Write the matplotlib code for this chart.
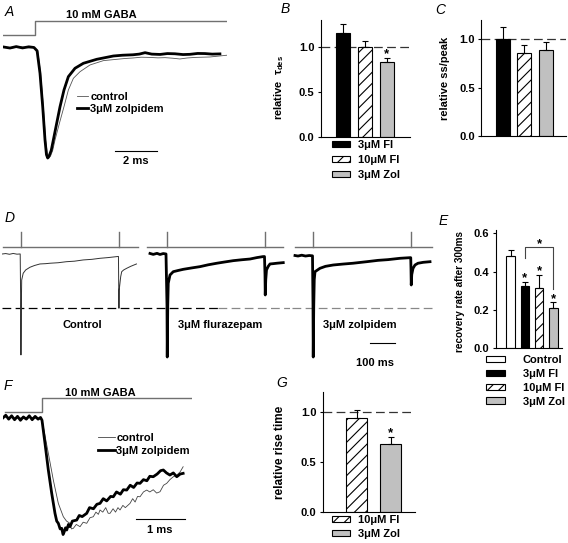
import matplotlib
matplotlib.use('Agg')
import matplotlib.pyplot as plt
import numpy as np

plt.rcParams['font.family'] = ['Liberation Sans', 'DejaVu Sans']
plt.rcParams['font.weight'] = 'bold'
plt.rcParams['axes.labelweight'] = 'bold'
plt.rcParams['font.size'] = 8
plt.rcParams['hatch.linewidth'] = 0.8
plt.rcParams['mathtext.fontset'] = 'custom'
plt.rcParams['mathtext.rm'] = 'Liberation Sans:bold'
plt.rcParams['mathtext.it'] = 'Liberation Sans:bold'
plt.rcParams['mathtext.bf'] = 'Liberation Sans:bold'

# ---------------- data ----------------
# panel A: normalised current vs time (ms), stimulus step
A_stim = [(-1.535, 0.113), (0, 0.113), (0, 0.235), (9.21, 0.235)]
A_ctl = [(-1.53, 0.004), (-1.1, -0.004), (-0.7, 0.006), (-0.3, -0.003), (-0.05, 0.0),
         (0.13, -0.03), (0.27, -0.233), (0.4, -0.536), (0.51, -0.837), (0.59, -0.96),
         (0.67, -1.0), (0.75, -0.98), (0.85, -0.93), (0.96, -0.837), (1.17, -0.686),
         (1.39, -0.536), (1.6, -0.385), (1.84, -0.279), (2.16, -0.219), (2.64, -0.158),
         (3.28, -0.119), (3.92, -0.107), (4.3, -0.1), (4.7, -0.095), (5.1, -0.088),
         (5.52, -0.09), (5.9, -0.094), (6.24, -0.092), (6.6, -0.097), (6.95, -0.104),
         (7.3, -0.095), (7.67, -0.09), (8.0, -0.088), (8.39, -0.086), (8.8, -0.078),
         (9.21, -0.07)]
A_zol = [(-1.53, 0.005), (-1.2, -0.005), (-0.9, 0.008), (-0.6, -0.004), (-0.3, 0.006),
         (-0.05, 0.0), (0.1, -0.03), (0.24, -0.233), (0.37, -0.536), (0.48, -0.837),
         (0.55, -0.97), (0.61, -1.0), (0.68, -0.98), (0.78, -0.93), (0.88, -0.837),
         (1.04, -0.686), (1.2, -0.536), (1.39, -0.385), (1.6, -0.264), (1.92, -0.188),
         (2.32, -0.143), (2.96, -0.107), (3.76, -0.077), (4.2, -0.07), (4.7, -0.066),
         (5.0, -0.06), (5.28, -0.047), (5.6, -0.06), (6.0, -0.063), (6.35, -0.055),
         (6.71, -0.057), (7.1, -0.064), (7.43, -0.062), (7.8, -0.054), (8.15, -0.055),
         (8.5, -0.06), (8.87, -0.058)]

# bar panels
B_names = ['3μM Fl', '10μM Fl', '3μM Zol']
B_vals = [1.16, 1.0, 0.83]
B_err = [0.09, 0.07, 0.05]
B_star = [False, False, True]

C_vals = [1.0, 0.86, 0.89]
C_err = [0.13, 0.08, 0.08]

E_names = ['Control', '3μM Fl', '10μM Fl', '3μM Zol']
E_vals = [0.48, 0.328, 0.314, 0.21]
E_err = [0.035, 0.02, 0.07, 0.03]
E_star = [False, True, True, True]
E_bracket = (0.47, 0.53, 0.31)

G_names = ['10μM Fl', '3μM Zol']
G_vals = [0.94, 0.68]
G_err = [0.08, 0.07]
G_star = [False, True]

# panel D: paired pulses, time (ms) vs normalised current
D_labels = ['Control', '3μM flurazepam', '3μM zolpidem']
D_pulses = [0, 392]
D_stim_span = [(-70, 468), (-81, 465), (-72, 476)]
D_level = -0.524
D_ctl = [(-73, 0.0), (-60, 0.004), (-45, -0.003), (-30, 0.005), (-15, -0.002), (-2, 0.0),
         (0, -0.5), (1, -0.98), (2.5, -0.5), (4, -0.252), (10, -0.187), (20, -0.155),
         (37, -0.129), (55, -0.112), (77, -0.097), (100, -0.094), (117, -0.09),
         (150, -0.085), (183, -0.075), (215, -0.07), (250, -0.058), (285, -0.052),
         (317, -0.042), (350, -0.035), (383, -0.026), (391, -0.024), (392, -0.3),
         (393, -0.527), (394, -0.35), (400, -0.22), (404, -0.172), (412, -0.155),
         (424, -0.139), (440, -0.12), (463, -0.097)]
D_flu = [(-68, 0.005), (-55, -0.004), (-40, 0.006), (-28, -0.005), (-15, 0.004), (-4, 0.0),
         (0, -0.5), (1, -1.0), (3, -0.5), (5, -0.284), (12, -0.204), (25, -0.172),
         (45, -0.16), (65, -0.149), (100, -0.135), (132, -0.123), (165, -0.105),
         (199, -0.09), (230, -0.078), (265, -0.065), (300, -0.056), (332, -0.049),
         (360, -0.035), (383, -0.026), (390, -0.025), (392, -0.2), (393, -0.398),
         (395, -0.25), (398, -0.155), (405, -0.12), (412, -0.097), (425, -0.094),
         (439, -0.09), (452, -0.087), (465, -0.084)]
D_zol = [(-72, -0.015), (-60, -0.02), (-45, -0.012), (-30, -0.02), (-15, -0.015), (-2, -0.018),
         (0, -0.5), (1, -1.0), (3, -0.5), (5, -0.25), (8, -0.172), (28, -0.139),
         (50, -0.12), (81, -0.107), (120, -0.098), (160, -0.09), (215, -0.075),
         (260, -0.062), (300, -0.055), (348, -0.042), (388, -0.036), (391, -0.036),
         (392, -0.15), (393, -0.301), (395, -0.2), (400, -0.14), (408, -0.107),
         (420, -0.09), (441, -0.081), (468, -0.075)]

# panel F: rise phase, time (ms) vs normalised current
F_stim = [(-0.755, 0.054), (0, 0.054), (0, 0.179), (3.06, 0.179)]
F_ctl = [(-0.8, 0.01), (-0.5, 0.0), (-0.2, 0.005), (0.0, -0.01), (0.027, -0.078),
         (0.129, -0.315), (0.231, -0.554), (0.333, -0.762), (0.435, -0.881), (0.5, -0.92),
         (0.571, -0.94), (0.6, -0.99), (0.639, -0.985), (0.7, -0.95), (0.776, -0.97),
         (0.84, -0.93), (0.912, -0.94), (0.98, -0.89), (1.047, -0.881), (1.1, -0.84),
         (1.15, -0.86), (1.184, -0.821), (1.24, -0.84), (1.3, -0.8), (1.35, -0.85),
         (1.388, -0.851), (1.45, -0.81), (1.5, -0.84), (1.55, -0.8), (1.592, -0.821),
         (1.65, -0.78), (1.7, -0.8), (1.796, -0.762), (1.85, -0.72), (1.9, -0.75),
         (1.95, -0.7), (2.0, -0.703), (2.07, -0.66), (2.137, -0.643), (2.2, -0.66),
         (2.27, -0.64), (2.34, -0.67), (2.408, -0.658), (2.48, -0.6), (2.545, -0.583),
         (2.61, -0.55), (2.68, -0.524), (2.75, -0.51), (2.82, -0.48), (2.88, -0.435)]
F_zol = [(-0.8, 0.0), (-0.74, 0.025), (-0.68, -0.01), (-0.62, 0.02), (-0.56, -0.015),
         (-0.5, 0.015), (-0.44, -0.02), (-0.38, 0.01), (-0.32, -0.01), (-0.26, 0.02),
         (-0.2, -0.015), (-0.14, 0.015), (-0.08, -0.01), (-0.03, 0.005), (0.0, -0.02),
         (0.061, -0.226), (0.129, -0.464), (0.198, -0.672), (0.265, -0.851), (0.3, -0.92),
         (0.333, -0.94), (0.37, -0.99), (0.402, -0.985), (0.43, -1.04), (0.45, -1.02),
         (0.48, -0.98), (0.504, -1.0), (0.54, -0.95), (0.571, -0.97), (0.62, -0.92),
         (0.708, -0.911), (0.76, -0.87), (0.82, -0.88), (0.912, -0.851), (0.97, -0.8),
         (1.05, -0.81), (1.12, -0.77), (1.184, -0.762), (1.25, -0.72), (1.32, -0.74),
         (1.4, -0.7), (1.455, -0.703), (1.52, -0.66), (1.6, -0.68), (1.66, -0.64),
         (1.729, -0.643), (1.8, -0.6), (1.87, -0.62), (1.94, -0.58), (2.0, -0.583),
         (2.07, -0.55), (2.14, -0.56), (2.2, -0.52), (2.27, -0.524), (2.35, -0.5),
         (2.42, -0.47), (2.476, -0.464), (2.54, -0.49), (2.61, -0.509), (2.68, -0.49),
         (2.75, -0.524), (2.82, -0.5), (2.88, -0.494)]

STYLE = {'Control': ('white', ''), '3μM Fl': ('black', ''),
         '10μM Fl': ('white', '///'), '3μM Zol': ('#c0c0c0', '')}
GREY = '#707070'
DASH = (7, 3.5)

# ---------------- figure ----------------
W, H = 568, 543
fig = plt.figure(figsize=(W / 100, H / 100), dpi=100)


def px_axes(x0, y0, x1, y1):
    return fig.add_axes([x0 / W, 1 - y1 / H, (x1 - x0) / W, (y1 - y0) / H])


def letter(x, y, s):
    fig.text(x / W, 1 - y / H, s, style='italic', weight='normal', fontsize=10,
             ha='center', va='center')


def xy(pts):
    return [p[0] for p in pts], [p[1] for p in pts]


def bar_axes(ax, names, vals, errs, width, stars=None):
    x = np.arange(1, len(vals) + 1)
    for xi, n, v in zip(x, names, vals):
        fc, h = STYLE[n]
        ax.bar(xi, v, width, color=fc, edgecolor='black', hatch=h, linewidth=0.8,
               label=n, zorder=2)
    ax.errorbar(x, vals, yerr=[np.zeros(len(errs)), errs], fmt='none', ecolor='black',
                elinewidth=0.8, capsize=2.2, capthick=0.8, zorder=3)
    if stars:
        for xi, v, e, s in zip(x, vals, errs, stars):
            if s:
                ax.annotate('*', (xi, v + e), xytext=(0, 2.5), textcoords='offset points',
                            ha='center', va='center', fontsize=9.5)
    for sp in ['top', 'right']:
        ax.spines[sp].set_visible(False)
    for sp in ['left', 'bottom']:
        ax.spines[sp].set_linewidth(0.8)
    ax.tick_params(axis='x', length=0, labelbottom=False)
    ax.tick_params(axis='y', length=2.5, width=0.8, pad=2, labelsize=8)
    return x


# A
axA = px_axes(3, 10, 227, 165)
axA.axis('off')
axA.set_xlim(-1.535, 9.21)
axA.set_ylim(-1.063, 0.339)
axA.plot(*xy(A_stim), color=GREY, lw=1)
axA.plot(*xy(A_ctl), color='#555555', lw=0.6, label='control')
axA.plot(*xy(A_zol), color='black', lw=2, label='3μM zolpidem')
axA.text(3.2, 0.294, '10 mM GABA', ha='center', va='center')
axA.plot([3.84, 5.84], [-0.934, -0.934], color='black', lw=0.8)
axA.text(4.84, -1.027, '2 ms', ha='center', va='center')
axA.legend(loc='upper left', bbox_to_anchor=(77 / W, 1 - 92 / H), bbox_transform=fig.transFigure,
           frameon=False, handlelength=1.0, handletextpad=0.2, labelspacing=0.15,
           borderpad=0, borderaxespad=0, fontsize=8)
letter(9, 12, 'A')

# B
axB = px_axes(320.7, 20, 410, 136.7)
bar_axes(axB, B_names, B_vals, B_err, 0.64, B_star)
axB.axhline(1.0, color='#333333', lw=0.9, dashes=DASH, zorder=1)
axB.set_xlim(0, 4.05)
axB.set_ylim(0, 1.3)
axB.set_yticks([0, 0.5, 1.0], ['0.0', '0.5', '1.0'])
axB.set_ylabel(r'relative  $\tau_{\mathbf{des}}$', fontsize=8)
axB.yaxis.set_label_coords(-0.39, 0.42)
axB.legend(loc='upper left', bbox_to_anchor=(332 / W, 1 - 140 / H), bbox_transform=fig.transFigure,
           frameon=False, handlelength=1.6, handleheight=0.55, handletextpad=0.7,
           labelspacing=0.45, borderpad=0, borderaxespad=0, fontsize=8)
letter(285, 9, 'B')

# C
axC = px_axes(481, 20, 566, 136)
bar_axes(axC, B_names, C_vals, C_err, 0.65)
axC.axhline(1.0, color='#333333', lw=0.9, dashes=DASH, zorder=1)
axC.set_xlim(0, 3.95)
axC.set_ylim(0, 1.2)
axC.set_yticks([0, 0.5, 1.0], ['0.0', '0.5', '1.0'])
axC.set_ylabel('relative ss/peak', fontsize=8)
axC.yaxis.set_label_coords(-0.37, 0.5)
letter(440, 10, 'C')

# D
D_axes_px = [(2, 140), (143, 290), (292, 435)]
D_pulse_px = [20.7, 167, 313]
D_traces = [(D_ctl, '#333333', 0.7), (D_flu, 'black', 2.0), (D_zol, 'black', 2.0)]
D_text_t = [245, 212, 188]
for k, ((x0, x1), xp, (tr, col, lw), span) in enumerate(zip(D_axes_px, D_pulse_px, D_traces, D_stim_span)):
    ax = px_axes(x0, 228, x1, 370)
    ax.axis('off')
    ax.set_xlim((x0 - xp) * 4, (x1 - xp) * 4)
    ax.set_ylim(-1.126, 0.252)
    ax.plot(span, [0.063, 0.063], color=GREY, lw=1)
    for p in D_pulses:
        ax.plot([p, p], [0.063, 0.214], color=GREY, lw=1)
    lo, hi = ax.get_xlim()
    if k == 0:
        ax.plot([lo, hi], [D_level] * 2, color='black', lw=0.9, dashes=DASH)
    elif k == 1:
        ax.plot([lo, 204], [D_level] * 2, color='black', lw=0.9, dashes=DASH)
        ax.plot([204, hi], [D_level] * 2, color='#888888', lw=0.9, dashes=DASH)
    else:
        ax.plot([lo, hi], [D_level] * 2, color='#888888', lw=0.9, dashes=DASH)
    ax.plot(*xy(tr), color=col, lw=lw)
    ax.text(D_text_t[k], -0.69, D_labels[k], ha='center', va='center', fontsize=8)
    if k == 2:
        ax.plot([228, 328], [-0.867, -0.867], color='black', lw=0.8)
        ax.text(250, -1.058, '100 ms', ha='center', va='center', fontsize=8)
letter(10, 218, 'D')

# E
axE = px_axes(495.7, 230, 561.7, 348.3)
xE = bar_axes(axE, E_names, E_vals, E_err, 0.6, E_star)
axE.set_xlim(-0.06, 4.59)
axE.set_ylim(0, 0.618)
axE.set_yticks([0, 0.2, 0.4, 0.6], ['0.0', '0.2', '0.4', '0.6'])
axE.set_ylabel('recovery rate after 300ms', fontsize=7.2)
axE.yaxis.set_label_coords(-0.47, 0.48)
axE.plot([xE[1], xE[1], xE[3], xE[3]], [E_bracket[0], E_bracket[1], E_bracket[1], E_bracket[2]],
         color='#444444', lw=0.8)
axE.text((xE[1] + xE[3]) / 2, E_bracket[1] + 0.012, '*', ha='center', va='center', fontsize=9.5)
axE.legend(loc='upper left', bbox_to_anchor=(486 / W, 1 - 355 / H), bbox_transform=fig.transFigure,
           frameon=False, handlelength=1.7, handleheight=0.55, handletextpad=1.6,
           labelspacing=0.35, borderpad=0, borderaxespad=0, fontsize=8)
letter(443, 221, 'E')

# F
axF = px_axes(3, 385, 192, 540)
axF.axis('off')
axF.set_xlim(-0.796, 3.061)
axF.set_ylim(-1.089, 0.295)
axF.plot(*xy(F_stim), color=GREY, lw=1)
axF.plot(*xy(F_ctl), color='#444444', lw=0.6, label='control')
axF.plot(*xy(F_zol), color='black', lw=2, label='3μM zolpidem')
axF.text(1.18, 0.223, '10 mM GABA', ha='center', va='center')
axF.plot([1.92, 2.92], [-0.902, -0.902], color='black', lw=0.8)
axF.text(2.41, -1.0, '1 ms', ha='center', va='center')
axF.legend(loc='upper left', bbox_to_anchor=(98 / W, 1 - 433 / H), bbox_transform=fig.transFigure,
           frameon=False, handlelength=1.55, handletextpad=0.1, labelspacing=0.3,
           borderpad=0, borderaxespad=0, fontsize=8)
letter(8, 386, 'F')

# G
axG = px_axes(322.7, 392.3, 415, 511.7)
bar_axes(axG, G_names, G_vals, G_err, 0.62, G_star)
axG.axhline(1.0, color='#333333', lw=0.9, dashes=DASH, zorder=1)
axG.set_xlim(-0.015, 2.72)
axG.set_ylim(0, 1.2)
axG.set_yticks([0, 0.5, 1.0], ['0.0', '0.5', '1.0'])
axG.set_ylabel('relative rise time', fontsize=8.5)
axG.yaxis.set_label_coords(-0.4, 0.5)
axG.legend(loc='upper left', bbox_to_anchor=(332 / W, 1 - 515 / H), bbox_transform=fig.transFigure,
           frameon=False, handlelength=1.6, handleheight=0.55, handletextpad=0.7,
           labelspacing=0.35, borderpad=0, borderaxespad=0, fontsize=8)
letter(282, 383, 'G')

fig.savefig('out.png', dpi=100)
